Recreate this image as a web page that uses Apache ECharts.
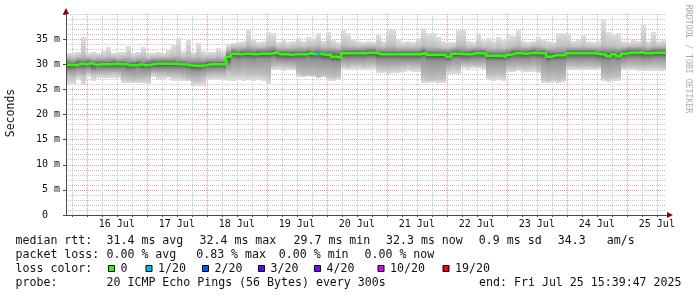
<!DOCTYPE html>
<html>
<head>
<meta charset="utf-8">
<script src="https://cdn.jsdelivr.net/npm/echarts@6/dist/echarts.min.js"></script>
<style>
html,body{margin:0;padding:0;background:#ffffff;}
#chart{width:697px;height:297px;}
</style>
</head>
<body>
<div id="chart"></div>
<script>
// ================= DATA =================
// time axis: hours since 15 Jul 00:00; graph spans 240 h ending Fri Jul 25 15:39:47
const rangeEndHour = 10 * 24 + 15 + 39 / 60 + 47 / 3600;
const rangeStartHour = rangeEndHour - 240;
const binHours = 2;

// median RTT per 2-hour bin (ms)
const median = [
  29.9, 29.8, 30.1, 30.0, 30.2, 29.9, 30.0, 30.0, 30.0, 30.1,
  30.0, 30.0, 29.8, 29.8, 30.0, 29.8, 29.9, 30.1, 30.1, 30.1,
  30.1, 30.1, 30.0, 30.0, 29.8, 29.7, 29.7, 29.8, 30.0, 30.0,
  30.0, 30.0, 31.5, 32.1, 32.0, 32.1, 32.1, 32.0, 32.1, 32.1,
  32.1, 32.3, 32.0, 32.0, 31.9, 32.0, 32.0, 32.0, 32.2, 32.0,
  32.1, 31.9, 31.9, 31.5, 31.3, 32.2, 32.2, 32.2, 32.2, 32.2,
  32.3, 32.3, 32.0, 32.0, 32.0, 32.0, 32.0, 32.0, 32.0, 32.0,
  32.0, 32.3, 31.9, 31.9, 31.9, 31.9, 31.5, 32.1, 32.1, 32.0,
  32.0, 32.2, 32.2, 32.2, 31.7, 31.7, 31.7, 31.5, 31.9, 32.2,
  32.2, 32.1, 32.2, 32.3, 32.2, 32.2, 31.5, 31.8, 31.8, 31.8,
  32.2, 32.2, 32.2, 32.2, 32.2, 32.2, 32.0, 32.0, 31.6, 32.0,
  31.6, 32.1, 32.3, 32.3, 32.4, 32.2, 32.2, 32.3, 32.3, 32.3
];
// smoke: upper inner / middle / outer edges (ms)
const hiInner = [
  30.6, 30.5, 30.8, 30.7, 30.9, 30.6, 30.7, 30.7, 30.7, 30.8,
  30.7, 30.7, 30.5, 30.5, 30.7, 30.5, 30.6, 30.8, 30.8, 30.8,
  30.8, 30.8, 30.7, 30.7, 30.5, 30.4, 30.4, 30.5, 30.7, 30.7,
  30.7, 30.7, 32.3, 32.8, 32.7, 32.8, 32.8, 32.7, 32.8, 32.8,
  32.8, 33.0, 32.7, 32.7, 32.6, 32.7, 32.7, 32.7, 32.9, 32.7,
  32.8, 32.6, 32.6, 32.6, 32.6, 32.9, 32.9, 32.9, 32.9, 32.9,
  33.0, 33.0, 32.7, 32.7, 32.7, 32.7, 32.7, 32.7, 32.7, 32.7,
  32.7, 33.0, 32.6, 32.6, 32.6, 32.6, 32.6, 32.8, 32.8, 32.7,
  32.7, 32.9, 32.9, 32.9, 32.4, 32.4, 32.4, 32.5, 32.6, 32.9,
  32.9, 32.8, 32.9, 33.0, 32.9, 32.9, 32.6, 32.5, 32.5, 32.5,
  32.9, 32.9, 32.9, 32.9, 32.9, 32.9, 32.7, 32.7, 32.6, 32.7,
  32.6, 32.8, 33.0, 33.0, 33.1, 32.9, 32.9, 33.0, 33.0, 33.0
];
const hiMid = [
  31.4, 31.3, 31.5, 31.8, 31.4, 31.3, 31.4, 31.4, 31.6, 31.4,
  31.3, 31.4, 31.6, 31.3, 31.4, 31.6, 31.3, 31.4, 31.5, 31.5,
  31.5, 31.6, 31.8, 31.5, 31.7, 31.4, 31.6, 31.3, 31.4, 31.4,
  31.6, 31.4, 33.0, 33.5, 33.4, 33.5, 33.9, 33.6, 33.4, 33.5,
  33.8, 33.8, 33.4, 33.5, 33.3, 33.4, 33.6, 33.4, 33.7, 33.6,
  33.8, 33.4, 33.6, 33.4, 33.3, 33.8, 33.7, 33.6, 33.5, 33.6,
  33.7, 33.6, 33.6, 33.4, 33.8, 33.8, 33.5, 33.4, 33.4, 33.4,
  33.5, 33.9, 33.6, 33.6, 33.4, 33.3, 33.3, 33.5, 33.8, 33.8,
  33.4, 33.5, 33.7, 33.5, 33.4, 33.3, 33.5, 33.3, 33.5, 33.6,
  33.8, 33.5, 33.5, 33.6, 33.6, 33.5, 33.3, 33.4, 33.6, 33.6,
  33.7, 33.5, 33.5, 33.6, 33.5, 33.5, 33.4, 33.9, 33.7, 33.6,
  33.5, 33.5, 33.6, 33.6, 33.7, 33.8, 33.5, 33.7, 33.6, 33.6
];
const maxPing = [
  32.3, 32.2, 32.4, 35.5, 32.3, 32.4, 32.2, 32.6, 33.5, 32.3,
  32.4, 32.5, 33.6, 32.3, 32.4, 33.5, 32.3, 32.2, 32.4, 32.3,
  32.8, 33.8, 35.2, 32.6, 35.0, 32.5, 34.3, 32.6, 32.4, 32.5,
  33.3, 32.6, 33.8, 34.3, 34.5, 34.6, 37.0, 35.0, 34.4, 34.6,
  36.5, 36.3, 34.5, 34.8, 34.4, 34.6, 35.3, 34.7, 35.5, 35.2,
  36.2, 34.6, 36.4, 34.8, 34.5, 36.8, 36.2, 35.0, 34.7, 34.5,
  34.6, 34.4, 35.8, 34.7, 36.8, 37.0, 34.8, 34.5, 34.6, 34.4,
  35.2, 37.2, 36.2, 36.2, 35.5, 34.6, 34.4, 34.5, 36.8, 37.0,
  34.6, 34.5, 36.3, 34.8, 35.2, 34.6, 35.5, 34.8, 35.8, 35.6,
  36.8, 34.7, 34.5, 34.6, 35.5, 35.0, 34.6, 34.5, 36.2, 36.2,
  36.2, 34.6, 34.8, 35.8, 34.6, 34.5, 34.7, 39.1, 36.5, 36.0,
  36.2, 34.6, 34.5, 34.8, 34.6, 37.8, 34.7, 36.5, 34.6, 34.8
];
// smoke: lower inner / middle / outer edges (ms)
const loInner = [
  28.9, 28.8, 29.1, 29.0, 29.2, 28.9, 29.0, 29.0, 29.0, 29.1,
  29.0, 29.0, 28.8, 28.8, 29.0, 28.8, 28.9, 29.1, 29.1, 29.1,
  29.1, 29.1, 29.0, 29.0, 28.8, 28.7, 28.7, 28.8, 29.0, 29.0,
  29.0, 29.0, 29.8, 31.0, 30.9, 31.0, 31.0, 30.9, 31.0, 31.0,
  31.0, 31.2, 30.9, 30.9, 30.8, 30.9, 30.8, 30.8, 31.0, 30.8,
  30.9, 30.7, 30.7, 30.5, 30.4, 31.1, 31.1, 31.1, 31.1, 31.1,
  31.2, 31.2, 30.9, 30.9, 30.9, 30.9, 30.9, 30.9, 30.9, 30.9,
  30.9, 31.0, 30.6, 30.6, 30.6, 30.7, 30.6, 31.0, 31.0, 30.9,
  30.9, 31.1, 31.1, 31.1, 30.6, 30.6, 30.6, 30.6, 30.9, 31.1,
  31.1, 31.0, 31.1, 31.2, 31.0, 30.8, 30.5, 30.6, 30.7, 30.7,
  31.1, 31.1, 31.1, 31.1, 31.1, 31.1, 30.9, 30.7, 30.6, 30.9,
  30.6, 31.0, 31.2, 31.2, 31.3, 31.1, 31.1, 31.2, 31.2, 31.2
];
const loMid = [
  27.6, 27.5, 27.8, 27.6, 28.2, 28.1, 28.0, 28.1, 28.0, 28.2,
  28.0, 27.2, 27.0, 26.9, 27.1, 27.0, 27.2, 28.2, 28.0, 28.1,
  27.9, 27.8, 27.9, 27.4, 27.0, 26.8, 26.9, 27.2, 27.9, 28.0,
  27.8, 27.9, 28.5, 28.3, 28.0, 28.2, 27.9, 28.1, 28.0, 27.8,
  27.6, 29.7, 29.8, 29.7, 29.6, 29.5, 28.2, 27.8, 27.6, 27.8,
  27.5, 27.7, 27.6, 27.4, 27.6, 29.8, 29.7, 29.9, 29.8, 29.7,
  29.9, 29.8, 29.2, 29.0, 29.1, 29.3, 29.2, 29.5, 29.6, 29.4,
  29.5, 27.3, 27.0, 26.9, 27.1, 27.2, 29.0, 29.2, 29.0, 29.8,
  29.9, 29.8, 29.7, 29.8, 27.9, 27.8, 28.0, 27.9, 29.2, 29.3,
  29.4, 29.2, 29.3, 29.4, 28.8, 27.2, 26.9, 27.0, 26.9, 27.2,
  29.6, 29.7, 29.5, 29.6, 29.7, 29.5, 29.4, 27.5, 27.3, 27.4,
  27.6, 29.5, 29.7, 29.6, 29.6, 29.5, 29.6, 29.7, 29.6, 29.5
];
const minPing = [
  25.9, 25.9, 27.0, 25.9, 27.5, 26.6, 27.2, 27.2, 27.2, 27.2,
  27.3, 26.2, 26.2, 26.2, 26.3, 26.2, 25.9, 27.5, 27.1, 27.1,
  27.3, 26.6, 26.6, 26.7, 26.6, 25.6, 25.6, 25.7, 26.8, 26.8,
  26.9, 26.8, 26.6, 26.7, 26.9, 26.6, 26.8, 26.6, 26.9, 26.7,
  25.9, 28.8, 28.9, 28.7, 28.8, 28.9, 27.5, 27.4, 27.6, 27.5,
  27.3, 27.5, 26.7, 26.6, 26.8, 29.0, 28.9, 29.0, 29.1, 29.0,
  28.9, 29.0, 28.2, 28.3, 28.1, 28.2, 28.3, 28.5, 28.6, 28.4,
  28.5, 26.3, 26.2, 26.4, 26.3, 26.2, 28.0, 28.1, 28.0, 29.2,
  29.1, 29.2, 29.2, 29.1, 26.8, 26.6, 26.9, 26.7, 28.5, 28.4,
  28.6, 28.5, 28.4, 28.5, 28.3, 26.3, 26.2, 26.4, 26.3, 26.4,
  28.9, 28.8, 29.0, 28.9, 28.8, 28.9, 29.0, 26.6, 26.5, 26.7,
  26.6, 28.9, 28.8, 28.9, 28.7, 28.6, 28.7, 28.6, 28.7, 28.6
];
// lost pings (out of 20) per bin
const lossCount = [
  0,0,0,0,0,0,0,0,0,0, 0,0,0,0,0,0,0,0,0,0,
  0,0,0,0,0,0,0,0,0,0, 0,0,0,0,0,0,0,0,0,0,
  0,0,0,0,0,0,0,0,0,0, 1,0,0,0,0,0,0,0,0,0,
  0,0,0,0,0,0,0,0,0,0, 0,0,0,0,0,0,0,0,0,0,
  0,0,0,0,0,0,0,0,0,0, 0,0,0,0,0,0,0,0,0,0,
  0,0,0,0,0,0,0,0,0,0, 0,0,0,0,0,0,0,0,0,0
];

// tick labels
const dayLabels = ['16 Jul','17 Jul','18 Jul','19 Jul','20 Jul','21 Jul','22 Jul','23 Jul','24 Jul','25 Jul'];
const yTickValues = [0, 5, 10, 15, 20, 25, 30, 35];
const yTickLabels = ['0  ', '5 m', '10 m', '15 m', '20 m', '25 m', '30 m', '35 m'];

// legend texts
const rttStats = ['median rtt:', '31.4 ms avg', '32.4 ms max', '29.7 ms min', '32.3 ms now', '0.9 ms sd', '34.3', 'am/s'];
const lossStats = ['packet loss:', '0.00 % avg', '0.83 % max', '0.00 % min', '0.00 % now'];
const lossLegendLabels = ['0', '1/20', '2/20', '3/20', '4/20', '10/20', '19/20'];
const lossLegendThresholds = [0, 1, 2, 3, 4, 10, 19];
const probeText = ['probe:', '20 ICMP Echo Pings (56 Bytes) every 300s', 'end: Fri Jul 25 15:39:47 2025'];

// ================= STYLE / LAYOUT =================
const lossColors = ['#26ff00', '#00b8ff', '#0059ff', '#5e00ff', '#7e00ff', '#dd00ff', '#ff0000'];
// smoke shades: outer edge, middle edge, inner edge, at the median
const shadeLevels = ['#e0e0e0', '#c0c0c0', '#939393', '#505050'];
const gridMinor = '#c6c6c6';
const gridMajor = '#ee9a9a';
const axisColor = '#4a4a4a';
const arrowColor = '#8b0000';
const MONO = '"DejaVu Sans Mono", monospace';
const legendRowY = [241, 255, 269, 283];
const rttX = [15.5, 106.5, 199.5, 293.5, 386, 478.8, 557.8, 606.8];
const lossX = [15.5, 106.5, 196.2, 278.8, 364.5];
const lossSwatchX = [108, 145.5, 202, 258, 314, 377.5, 442.5];
const probeX = [15.5, 106.5, 681.5];

function lossColorFor(n) {
  let c = lossColors[0];
  for (let k = 0; k < lossLegendThresholds.length; k++) if (n >= lossLegendThresholds[k]) c = lossColors[k];
  return c;
}

// ================= BUILD =================
const binStart = i => rangeStartHour + i * binHours;
const smokeData = median.map((m, i) => [binStart(i), binStart(i + 1), minPing[i], loMid[i], loInner[i], m, hiInner[i], hiMid[i], maxPing[i]]);
const medianData = median.map((m, i) => [binStart(i), m]);
medianData.push([binStart(median.length), median[median.length - 1]]);
const lossData = [];
median.forEach((m, i) => { if (lossCount[i] > 0) lossData.push([binStart(i), binStart(i + 1), m, lossCount[i]]); });

// vertical grid lines every 6 h (red at midnight)
const gridData = [];
const xTickHours = [];
for (let h = Math.ceil(rangeStartHour / 6) * 6; h <= rangeEndHour; h += 6) {
  xTickHours.push(h);
  gridData.push([h, h % 24 === 0 ? 1 : 0]);
}
const labelHours = dayLabels.map((d, i) => 36 + 24 * i);
// horizontal major lines at 0..40 (top one grey)
const ySplitColors = yTickValues.map(() => gridMajor).concat([gridMinor]);

// band b spans edge b -> edge b+1 (bottom to top); shade index of each edge
const edgeShade = [0, 1, 2, 3, 2, 1, 0];
function renderSmoke(params, api) {
  const x0 = Math.round(api.coord([api.value(0), 0])[0]);
  const x1 = Math.round(api.coord([api.value(1), 0])[0]);
  const ys = [];
  for (let k = 2; k <= 8; k++) ys.push(Math.round(api.coord([api.value(0), api.value(k)])[1]));
  const children = [];
  for (let b = 0; b < 6; b++) {
    const top = ys[b + 1], bot = ys[b];
    if (bot > top) {
      children.push({
        type: 'rect',
        shape: { x: x0, y: top, width: x1 - x0, height: bot - top },
        style: {
          fill: new echarts.graphic.LinearGradient(0, 0, 0, 1, [
            { offset: 0, color: shadeLevels[edgeShade[b + 1]] },
            { offset: 1, color: shadeLevels[edgeShade[b]] }
          ])
        }
      });
    }
  }
  return { type: 'group', children };
}
function renderGrid(params, api) {
  const v = api.value(0), kind = api.value(1);
  const stroke = kind === 1 ? gridMajor : gridMinor;
  const p0 = api.coord([v, 0]), p1 = api.coord([v, 40]);
  const x = Math.round(p0[0]) + 0.5;
  return { type: 'line', shape: { x1: x, y1: p0[1], x2: x, y2: p1[1] }, style: { stroke, lineWidth: 1, lineDash: [1, 1] } };
}
function renderLoss(params, api) {
  const p0 = api.coord([api.value(0), api.value(2)]);
  const p1 = api.coord([api.value(1), api.value(2)]);
  return { type: 'rect', shape: { x: Math.round(p0[0]) + 1, y: p0[1] - 1.5, width: Math.round(p1[0]) - Math.round(p0[0]) - 2, height: 3 }, style: { fill: lossColorFor(api.value(3)) } };
}

// legend graphics
const graphics = [];
const txt = (x, y, text) => ({ type: 'text', x, y, style: { text, font: '11.6px ' + MONO, fill: '#111', textVerticalAlign: 'middle' } });
rttStats.forEach((t, i) => graphics.push(txt(rttX[i], legendRowY[0], t)));
lossStats.forEach((t, i) => graphics.push(txt(lossX[i], legendRowY[1], t)));
graphics.push(txt(15.5, legendRowY[2], 'loss color:'));
lossLegendLabels.forEach((t, i) => {
  graphics.push({ type: 'rect', shape: { x: lossSwatchX[i] + 0.5, y: legendRowY[2] - 3.5, width: 6, height: 6 }, style: { fill: lossColors[i], stroke: '#000', lineWidth: 1 } });
  graphics.push(txt(lossSwatchX[i] + 12.5, legendRowY[2], t));
});
graphics.push(txt(probeX[0], legendRowY[3], probeText[0]));
graphics.push(txt(probeX[1], legendRowY[3], probeText[1]));
const endT = txt(probeX[2], legendRowY[3], probeText[2]);
endT.style.textAlign = 'right';
graphics.push(endT);
graphics.push({ type: 'text', x: 11, y: 113, rotation: Math.PI / 2, style: { text: 'Seconds', font: '11.5px ' + MONO, fill: '#111', textAlign: 'center', textVerticalAlign: 'middle' } });
graphics.push({ type: 'text', x: 688, y: 59, rotation: -Math.PI / 2, style: { text: 'RRDTOOL / TOBI OETIKER', font: '8.2px ' + MONO, fill: '#aaaaaa', textAlign: 'center', textVerticalAlign: 'middle' } });

const yBase = { type: 'value', min: 0, max: 40, interval: 5, position: 'left' };
const chart = echarts.init(document.getElementById('chart'), null, { renderer: 'canvas' });
chart.setOption({
  animation: false,
  backgroundColor: '#ffffff',
  grid: { left: 66, right: 31, top: 14, bottom: 82, containLabel: false },
  xAxis: [{
    type: 'value', min: rangeStartHour, max: rangeEndHour, z: 10,
    axisLine: { show: true, lineStyle: { color: axisColor, width: 1 } },
    axisTick: { show: true, length: 2, customValues: xTickHours, lineStyle: { color: axisColor } },
    axisLabel: {
      show: true, customValues: labelHours, margin: 4, color: '#111',
      fontFamily: MONO, fontSize: 10, hideOverlap: false,
      formatter: v => dayLabels[Math.round((v - 36) / 24)] || ''
    },
    splitLine: { show: false }
  }, {
    type: 'value', min: rangeStartHour, max: rangeEndHour, z: 9, position: 'bottom',
    axisLine: { show: true, lineStyle: { color: arrowColor, width: 1 }, symbol: ['none', 'triangle'], symbolSize: [6, 6], symbolOffset: [0, 4] },
    axisTick: { show: false }, axisLabel: { show: false }, splitLine: { show: false }
  }],
  yAxis: [Object.assign({}, yBase, {
    // grid lines + labels, drawn beneath the smoke
    z: 0,
    axisLine: { show: false },
    axisTick: { show: false },
    axisLabel: {
      margin: 6, color: '#111', fontFamily: MONO, fontSize: 10,
      formatter: v => { const k = yTickValues.indexOf(v); return k >= 0 ? yTickLabels[k] : ''; }
    },
    splitLine: { show: true, lineStyle: { color: ySplitColors, width: 1, type: [1, 1] } },
    minorTick: { show: false, splitNumber: 5 },
    minorSplitLine: { show: true, lineStyle: { color: gridMinor, width: 1, type: [1, 1] } }
  }), Object.assign({}, yBase, {
    z: 9,
    axisLine: { show: true, lineStyle: { color: arrowColor, width: 1 }, symbol: ['none', 'triangle'], symbolSize: [6, 6], symbolOffset: [0, 3] },
    axisTick: { show: false }, axisLabel: { show: false }, splitLine: { show: false }
  }), Object.assign({}, yBase, {
    z: 10,
    axisLine: { show: true, lineStyle: { color: axisColor, width: 1 } },
    axisTick: { show: true, length: 3, lineStyle: { color: axisColor } },
    axisLabel: { show: false }, splitLine: { show: false }
  })],
  graphic: graphics,
  series: [
    { type: 'custom', name: 'grid', renderItem: renderGrid, data: gridData, z: 1, silent: true },
    { type: 'custom', name: 'smoke', renderItem: renderSmoke, data: smokeData, z: 2, silent: true, clip: true },
    { type: 'line', name: 'median', step: 'end', data: medianData, symbol: 'none', z: 4, silent: true,
      lineStyle: { color: lossColors[0], width: 2.5 } },
    { type: 'custom', name: 'loss', renderItem: renderLoss, data: lossData, z: 5, silent: true }
  ]
});
</script>
</body>
</html>
